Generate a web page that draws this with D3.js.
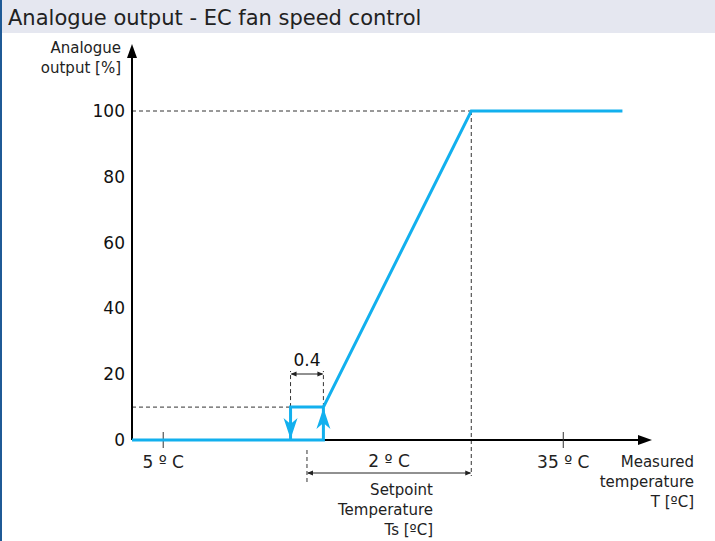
<!DOCTYPE html>
<html>
<head>
<meta charset="utf-8">
<script src="https://cdn.jsdelivr.net/npm/d3@7"></script>
<style>
  body { margin: 0; background: #fff; }
  text { font-family: "DejaVu Sans", Verdana, sans-serif; }
</style>
</head>
<body>
<div id="chart"></div>
<script>
// data (x in schematic °C units relative to setpoint, y in %)
const yTicks = [0, 20, 40, 60, 80, 100];
const outputX = [-2.13, 0.2, 0.2, 2, 3.84];
const outputY = [0, 0, 10, 100, 100];
const hystX = [-0.2, 0.2];      // switch-off / switch-on points
const hystLevel = 10;
const xTickPos = [-1.75, 3.12];
const xTickLabels = ["5 º C", "35 º C"];
const hystLabel = "0.4";
const bandLabel = "2 º C";

const width = 715, height = 541;

const svg = d3.select("#chart").append("svg")
    .attr("width", width)
    .attr("height", height);

// title bar
svg.append("rect")
    .attr("x", 0).attr("y", 0)
    .attr("width", width).attr("height", 33)
    .attr("fill", "#e5e7f0");
svg.append("rect")
    .attr("x", 0).attr("y", 0)
    .attr("width", 2).attr("height", height)
    .attr("fill", "#1f5a96");
svg.append("text")
    .attr("x", 8).attr("y", 25)
    .attr("font-size", 21)
    .attr("fill", "#222")
    .text("Analogue output - EC fan speed control");

const xScale = d3.scaleLinear().domain([-2.13, 4.2]).range([132, 652]);
const yScale = d3.scaleLinear().domain([0, 100]).range([440, 111]);

const x0 = xScale(-2.13), y0 = yScale(0);

// dashed guides
const dash = (x1, y1, x2, y2) => svg.append("line")
    .attr("x1", x1).attr("y1", y1).attr("x2", x2).attr("y2", y2)
    .attr("stroke", "#333").attr("stroke-width", 1)
    .attr("stroke-dasharray", "4,3");

dash(x0, yScale(100), xScale(2), yScale(100));
dash(x0, yScale(hystLevel), xScale(hystX[0]), yScale(hystLevel));
dash(xScale(2), yScale(100), xScale(2), 476);
dash(xScale(0), 450, xScale(0), 484);
dash(xScale(hystX[0]), yScale(hystLevel), xScale(hystX[0]), 371);
dash(xScale(hystX[1]), yScale(hystLevel), xScale(hystX[1]), 371);

// axes
svg.append("line")
    .attr("x1", x0).attr("y1", y0).attr("x2", xScale(4.2) - 10).attr("y2", y0)
    .attr("stroke", "#000").attr("stroke-width", 2);
svg.append("path")
    .attr("d", `M${xScale(4.2)},${y0} l-14,-5 l0,10 z`)
    .attr("fill", "#000");
svg.append("line")
    .attr("x1", x0).attr("y1", y0).attr("x2", x0).attr("y2", 55)
    .attr("stroke", "#000").attr("stroke-width", 2);
svg.append("path")
    .attr("d", `M${x0},44 l-5,14 l10,0 z`)
    .attr("fill", "#000");

// y tick labels
svg.append("g").selectAll("text")
    .data(yTicks)
    .enter()
    .append("text")
    .attr("x", 125)
    .attr("y", d => yScale(d) + 6)
    .attr("text-anchor", "end")
    .attr("font-size", 17)
    .attr("fill", "#111")
    .text(d => d);

// x ticks
xTickPos.forEach((p, i) => {
    svg.append("line")
        .attr("x1", xScale(p)).attr("x2", xScale(p))
        .attr("y1", y0 - 8).attr("y2", y0 + 8)
        .attr("stroke", "#333").attr("stroke-width", 1);
    svg.append("text")
        .attr("x", xScale(p)).attr("y", 468)
        .attr("text-anchor", "middle")
        .attr("font-size", 17)
        .attr("fill", "#222")
        .text(xTickLabels[i]);
});

// output curve
const line = d3.line().x(d => xScale(d[0])).y(d => yScale(d[1]));
const blue = "#12b0ee";
svg.append("path")
    .datum(outputX.map((v, i) => [v, outputY[i]]))
    .attr("d", line)
    .attr("fill", "none")
    .attr("stroke", blue)
    .attr("stroke-width", 3);
svg.append("path")
    .datum([[hystX[0], 0], [hystX[0], hystLevel], [hystX[1], hystLevel]])
    .attr("d", line)
    .attr("fill", "none")
    .attr("stroke", blue)
    .attr("stroke-width", 3);

// hysteresis arrowheads
const hx0 = xScale(hystX[0]), hx1 = xScale(hystX[1]);
svg.append("path")
    .attr("d", `M${hx0},${y0 - 1} l-7,-21 l7,6 l7,-6 z`)
    .attr("fill", blue);
svg.append("path")
    .attr("d", `M${hx1},${yScale(hystLevel) + 1} l-7,21 l7,-6 l7,6 z`)
    .attr("fill", blue);

// 0.4 dimension
const dimY = 374;
svg.append("line")
    .attr("x1", hx0 + 1).attr("x2", hx1 - 1).attr("y1", dimY).attr("y2", dimY)
    .attr("stroke", "#222").attr("stroke-width", 1);
svg.append("path")
    .attr("d", `M${hx0},${dimY} l6,-2.5 l0,5 z M${hx1},${dimY} l-6,-2.5 l0,5 z`)
    .attr("fill", "#222");
svg.append("text")
    .attr("x", (hx0 + hx1) / 2).attr("y", 366)
    .attr("text-anchor", "middle")
    .attr("font-size", 17)
    .attr("fill", "#111")
    .text(hystLabel);

// 2 ºC dimension
const bx0 = xScale(0), bx1 = xScale(2), bY = 473;
svg.append("line")
    .attr("x1", bx0 + 1).attr("x2", bx1 - 1).attr("y1", bY).attr("y2", bY)
    .attr("stroke", "#222").attr("stroke-width", 1);
svg.append("path")
    .attr("d", `M${bx0},${bY} l6,-2.5 l0,5 z M${bx1},${bY} l-6,-2.5 l0,5 z`)
    .attr("fill", "#222");
svg.append("text")
    .attr("x", (bx0 + bx1) / 2).attr("y", 467)
    .attr("text-anchor", "middle")
    .attr("font-size", 17)
    .attr("fill", "#222")
    .text(bandLabel);

// multi-line labels
const label = (x, y, lines) => {
    const t = svg.append("text")
        .attr("text-anchor", "end")
        .attr("font-size", 15)
        .attr("fill", "#222");
    lines.forEach((s, i) => t.append("tspan").attr("x", x).attr("y", y + i * 20).text(s));
};
label(121, 53, ["Analogue", "output [%]"]);
label(433, 495, ["Setpoint", "Temperature", "Ts [ºC]"]);
label(694, 467, ["Measured", "temperature", "T [ºC]"]);
</script>
</body>
</html>
